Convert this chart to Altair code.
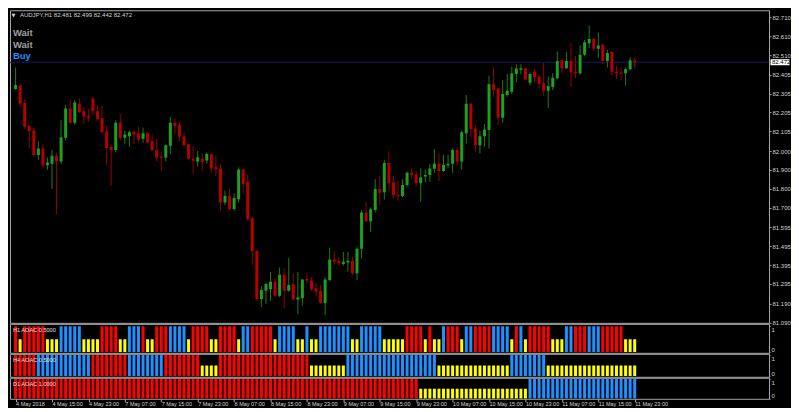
import altair as alt
import pandas as pd

# ---------------- data ----------------
symbol = "AUDJPY,H1"
quote = [82.481, 82.499, 82.442, 82.472]
last_price = 82.472
signals = ["Wait", "Wait", "Buy"]
signal_colors = ["#A0A0A0", "#A0A0A0", "#1E90FF"]

opens = [82.330, 82.349, 82.255, 82.134, 82.109, 81.980, 82.014, 81.925, 81.933, 81.975,
         81.945, 82.071, 82.226, 82.151, 82.251, 82.212, 82.186, 82.280, 82.212, 82.174,
         82.105, 82.023, 82.006, 82.151, 82.071, 82.079, 82.103, 82.095, 82.066, 82.095,
         82.052, 82.006, 81.970, 81.966, 82.028, 82.151, 82.138, 82.079, 82.036, 81.959,
         81.945, 81.959, 81.950, 81.983, 81.916, 81.908, 81.727, 81.763, 81.693, 81.744,
         81.902, 81.837, 81.645, 81.469, 81.215, 81.258, 81.267, 81.306, 81.232, 81.344,
         81.258, 81.293, 81.212, 81.218, 81.321, 81.313, 81.272, 81.258, 81.193, 81.315,
         81.425, 81.416, 81.401, 81.408, 81.418, 81.352, 81.481, 81.674, 81.628, 81.687,
         81.799, 81.782, 81.937, 81.834, 81.768, 81.762, 81.820, 81.882, 81.877, 81.829,
         81.865, 81.873, 81.906, 81.933, 81.894, 81.925, 81.933, 82.006, 81.945, 82.095,
         82.251, 82.120, 82.031, 82.079, 82.112, 82.355, 82.332, 82.177, 82.298, 82.315,
         82.409, 82.432, 82.439, 82.363, 82.423, 82.396, 82.361, 82.320, 82.341, 82.387,
         82.483, 82.440, 82.478, 82.422, 82.414, 82.512, 82.573, 82.595, 82.543, 82.564,
         82.478, 82.526, 82.422, 82.418, 82.413, 82.435, 82.481]
highs = [82.444, 82.358, 82.275, 82.143, 82.126, 82.052, 82.035, 81.966, 82.006, 81.988,
         82.164, 82.246, 82.275, 82.272, 82.280, 82.232, 82.224, 82.289, 82.243, 82.241,
         82.134, 82.035, 82.164, 82.198, 82.109, 82.109, 82.109, 82.131, 82.126, 82.100,
         82.088, 82.062, 81.997, 82.036, 82.182, 82.174, 82.155, 82.095, 82.040, 82.026,
         82.000, 81.988, 81.992, 81.988, 81.976, 81.932, 81.791, 81.799, 81.777, 81.914,
         81.906, 81.877, 81.650, 81.473, 81.284, 81.301, 81.358, 81.327, 81.382, 81.378,
         81.433, 81.351, 81.358, 81.320, 81.351, 81.330, 81.298, 81.289, 81.330, 81.488,
         81.471, 81.438, 81.464, 81.464, 81.438, 81.490, 81.687, 81.731, 81.701, 81.851,
         81.868, 81.954, 82.000, 81.868, 81.839, 81.851, 81.891, 81.908, 81.894, 81.908,
         81.902, 81.932, 82.011, 81.988, 81.980, 81.980, 82.014, 82.023, 82.109, 82.298,
         82.255, 82.138, 82.109, 82.143, 82.401, 82.444, 82.337, 82.378, 82.409, 82.447,
         82.461, 82.461, 82.444, 82.418, 82.435, 82.409, 82.469, 82.396, 82.413, 82.530,
         82.487, 82.526, 82.573, 82.504, 82.561, 82.590, 82.667, 82.602, 82.629, 82.573,
         82.538, 82.530, 82.452, 82.447, 82.444, 82.499, 82.499]
lows = [82.325, 82.238, 82.117, 82.017, 81.975, 81.954, 81.914, 81.902, 81.799, 81.665,
        81.932, 82.057, 82.148, 82.140, 82.203, 82.146, 82.155, 82.190, 82.160, 82.097,
        81.925, 81.816, 81.994, 82.057, 82.036, 82.023, 82.040, 82.045, 82.045, 82.040,
        82.000, 81.945, 81.894, 81.945, 81.983, 82.092, 82.052, 82.028, 81.954, 81.880,
        81.919, 81.897, 81.933, 81.885, 81.868, 81.684, 81.713, 81.684, 81.682, 81.727,
        81.774, 81.631, 81.396, 81.206, 81.172, 81.189, 81.206, 81.224, 81.224, 81.164,
        81.254, 81.210, 81.134, 81.181, 81.296, 81.258, 81.231, 81.189, 81.129, 81.310,
        81.396, 81.392, 81.392, 81.361, 81.344, 81.315, 81.430, 81.622, 81.571, 81.674,
        81.713, 81.743, 81.782, 81.748, 81.736, 81.756, 81.811, 81.851, 81.816, 81.731,
        81.834, 81.837, 81.885, 81.842, 81.890, 81.911, 81.885, 81.925, 81.902, 82.040,
        82.074, 81.997, 81.988, 82.023, 82.014, 82.289, 82.143, 82.151, 82.289, 82.303,
        82.366, 82.409, 82.375, 82.349, 82.366, 82.332, 82.293, 82.229, 82.324, 82.383,
        82.413, 82.436, 82.341, 82.387, 82.406, 82.504, 82.547, 82.533, 82.495, 82.461,
        82.444, 82.401, 82.383, 82.375, 82.349, 82.427, 82.442]
closes = [82.351, 82.251, 82.129, 82.105, 81.980, 82.014, 81.925, 81.940, 81.975, 81.945,
          82.074, 82.226, 82.151, 82.258, 82.207, 82.182, 82.179, 82.212, 82.169, 82.100,
          82.017, 82.006, 82.151, 82.069, 82.088, 82.100, 82.088, 82.062, 82.095, 82.045,
          82.006, 81.966, 81.964, 82.031, 82.151, 82.134, 82.078, 82.031, 81.959, 81.949,
          81.968, 81.942, 81.985, 81.908, 81.902, 81.727, 81.763, 81.693, 81.751, 81.902,
          81.825, 81.638, 81.468, 81.213, 81.262, 81.294, 81.306, 81.232, 81.344, 81.258,
          81.289, 81.212, 81.224, 81.318, 81.313, 81.267, 81.253, 81.193, 81.318, 81.425,
          81.413, 81.404, 81.413, 81.418, 81.352, 81.481, 81.674, 81.628, 81.691, 81.799,
          81.779, 81.937, 81.829, 81.765, 81.760, 81.820, 81.885, 81.873, 81.829, 81.860,
          81.873, 81.908, 81.933, 81.894, 81.928, 81.933, 82.006, 81.945, 82.100, 82.251,
          82.117, 82.031, 82.079, 82.114, 82.355, 82.324, 82.177, 82.303, 82.320, 82.413,
          82.439, 82.440, 82.380, 82.409, 82.392, 82.358, 82.320, 82.346, 82.389, 82.478,
          82.440, 82.478, 82.418, 82.414, 82.512, 82.578, 82.595, 82.543, 82.561, 82.478,
          82.521, 82.422, 82.414, 82.411, 82.435, 82.483, 82.472]

# AOAC indicator states per bar: R = red (1), B = blue (1), Y = yellow (0.5)
h1_states = list(
    "RYRRRRRYYYBBBBBYYYYRRRRYYBBBRYYRRRBBBBYRRRRYYRRRRYBB"
    "RRRRRYBBBBYYBYYBBBBBBBYYBBBBBYYYYYRRRRYRYYBRRRYBBRRRR"
    "BBBBYRBYRRRRRYYYBBRRRBBBRRRRRYYY")
h4_states = list(
    "RRRRRBBBBBBBBBBBBRRRRRRRRBBBBBBBBRRRRRRRRYYYYRRRRRRRRRR"
    "RRRRRRRRRRYYYYYYYYBBBBBBBBBBBBBBBBBBBBYYYYYYYYYYYYYYYYBB"
    "BBBBBBYYYYYYYYYYYYYYYYYYYY")
d1_states = list(
    "RRRRRRRRRRRRRRRRRRRRRRRRRRRRRRRRRRRRRRRRRRRRRRRRRRRRRRRRRR"
    "RRRRRRRRRRRRRRRRRRRRRRRRRRRRRRRYYYYYYYYYYYYYYYYYYYYYYYYBBB"
    "BBBBBBBBBBBBBBBBBBBBB")
h1_value, h4_value, d1_value = 0.5, 0.5, 1.0

price_ticks = [82.710, 82.610, 82.510, 82.405, 82.305, 82.205, 82.105, 82.000, 81.900,
               81.800, 81.700, 81.595, 81.495, 81.395, 81.295, 81.190, 81.090]
time_ticks = [0, 8, 16, 24, 32, 40, 48, 56, 64, 72, 80, 88, 96, 104, 112, 120, 128, 136]
time_labels = ["4 May 2018", "4 May 15:00", "4 May 23:00", "7 May 07:00", "7 May 15:00",
               "7 May 23:00", "8 May 07:00", "8 May 15:00", "8 May 23:00", "9 May 07:00",
               "9 May 15:00", "9 May 23:00", "10 May 07:00", "10 May 15:00", "10 May 23:00",
               "11 May 07:00", "11 May 15:00", "11 May 23:00"]

# ---------------- styling ----------------
FONT = "Liberation Sans"
TXT = "#D2D2D2"
BORDER = "#A8A8A8"
BULL, BULL_WICK = "#1FA01F", "#178017"
BEAR, BEAR_WICK = "#B40000", "#940000"
STATE_COLORS = alt.Scale(domain=["R", "B", "Y"], range=["#FF0000", "#1E90FF", "#FFFF00"])
W = 760
MAIN_H = 313
xs = alt.Scale(domain=[-0.13, 164.41], nice=False, zero=False)

n = len(opens)
candles = pd.DataFrame({"i": list(range(n)), "open": opens, "high": highs,
                        "low": lows, "close": closes})
up = "datum.close >= datum.open"

ys = alt.Scale(domain=[81.088, 82.748], nice=False, zero=False)
price_axis = alt.Axis(orient="right", values=price_ticks, format=".3f", title=None,
                      domain=False, grid=False, tickSize=2, tickColor=BORDER,
                      labelColor=TXT, labelFont=FONT, labelFontSize=6, labelPadding=1,
                      labelOverlap=False, labelFlush=False, labelBaseline="middle")

base = alt.Chart(candles).encode(x=alt.X("i:Q", scale=xs, axis=None))
wicks = base.mark_rule(strokeWidth=1, clip=True).encode(
    y=alt.Y("low:Q", scale=ys, axis=price_axis),
    y2="high:Q",
    color=alt.condition(up, alt.value(BULL_WICK), alt.value(BEAR_WICK)),
)
bodies = base.mark_bar(size=3, clip=True).encode(
    y=alt.Y("open:Q", scale=ys, axis=price_axis),
    y2="close:Q",
    color=alt.condition(up, alt.value(BULL), alt.value(BEAR)),
)

price_df = pd.DataFrame({"p": [last_price]})
price_line = alt.Chart(price_df).mark_rule(color="#16166E", strokeWidth=1).encode(
    y=alt.Y("p:Q", scale=ys, axis=price_axis))
price_box = alt.Chart(price_df).transform_calculate(
    lo="datum.p - 0.016", hi="datum.p + 0.016"
).mark_rect(color="#FFFFFF", clip=False).encode(
    x=alt.value(W + 1.5), x2=alt.value(W + 20.5),
    y=alt.Y("lo:Q", scale=ys, axis=price_axis), y2="hi:Q")
price_text = alt.Chart(price_df).mark_text(
    align="left", baseline="middle", fontSize=6, font=FONT, color="#000000"
).encode(x=alt.value(W + 3), y=alt.Y("p:Q", scale=ys, axis=price_axis),
         text=alt.Text("p:Q", format=".3f"))

header = f"{symbol}  " + " ".join(f"{v:.3f}" for v in quote)
tri = alt.Chart(pd.DataFrame({"t": ["\u25BC"]})).mark_text(
    align="left", baseline="middle", fontSize=5, font="DejaVu Sans", color=TXT
).encode(x=alt.value(1.5), y=alt.value(4.8), text="t:N")
head = alt.Chart(pd.DataFrame({"t": [header]})).mark_text(
    align="left", baseline="middle", fontSize=6, font=FONT, color=TXT
).encode(x=alt.value(10), y=alt.value(4.8), text="t:N")

sig_layers = []
for k, (s, c) in enumerate(zip(signals, signal_colors)):
    sig_layers.append(
        alt.Chart(pd.DataFrame({"t": [s]})).mark_text(
            align="left", baseline="middle", fontSize=9.5, font=FONT,
            fontWeight="bold", color=c
        ).encode(x=alt.value(3), y=alt.value(23.0 + 11.6 * k), text="t:N"))

main = alt.layer(price_line, wicks, bodies, price_box, price_text, tri, head,
                 *sig_layers).properties(width=W, height=MAIN_H)


def pane(states, label, height, ydom, last=False):
    df = pd.DataFrame({"i": list(range(len(states))), "s": states})
    df["v"] = [0.5 if s == "Y" else 1.0 for s in states]
    df["b"] = 0.0
    if last:
        expr = "[" + ",".join(f"'{t}'" for t in time_labels) + "][round(datum.value/8)]"
        xaxis = alt.Axis(orient="bottom", values=time_ticks, labelExpr=expr, title=None,
                         domain=False, grid=False, tickSize=3, tickColor=BORDER,
                         labelColor=TXT, labelFont=FONT, labelFontSize=5.5,
                         labelAlign="left", labelPadding=0, labelFlush=False,
                         labelOverlap=False)
    else:
        xaxis = None
    yaxis = alt.Axis(orient="right", values=[0, 1], format="d", title=None, domain=False,
                     grid=False, tickSize=1, tickColor=BORDER, labelColor=TXT,
                     labelFont=FONT, labelFontSize=6, labelPadding=1,
                     labelBaseline={"condition": {"test": "datum.value > 0.5", "value": "top"},
                                    "value": "bottom"})
    bars = alt.Chart(df).mark_bar(size=3, clip=True).encode(
        x=alt.X("i:Q", scale=xs, axis=xaxis),
        y=alt.Y("v:Q", scale=alt.Scale(domain=ydom, nice=False, zero=False), axis=yaxis),
        y2="b:Q",
        color=alt.Color("s:N", scale=STATE_COLORS, legend=None),
    )
    txt = alt.Chart(pd.DataFrame({"t": [label]})).mark_text(
        align="left", baseline="middle", fontSize=5.6, font=FONT, color="#E0E0E0"
    ).encode(x=alt.value(3), y=alt.value(6), text="t:N")
    return alt.layer(bars, txt).properties(width=W, height=height)


p_h1 = pane(h1_states, f"H1 AOAC {h1_value:.4f}", 29, [-0.027, 1.0885])
p_h4 = pane(h4_states, f"H4 AOAC {h4_value:.4f}", 23, [-0.033, 1.062])
p_d1 = pane(d1_states, f"D1 AOAC {d1_value:.4f}", 21, [-0.0155, 1.067], last=True)

chart = alt.vconcat(main, p_h1, p_h4, p_d1, spacing=1, bounds="flush").properties(
    background="#000000",
    padding={"left": 1, "top": 1, "right": 0, "bottom": 0},
).configure_view(stroke=BORDER, strokeWidth=1)

chart.save("out.html", embed_options={"renderer": "svg", "actions": False})
